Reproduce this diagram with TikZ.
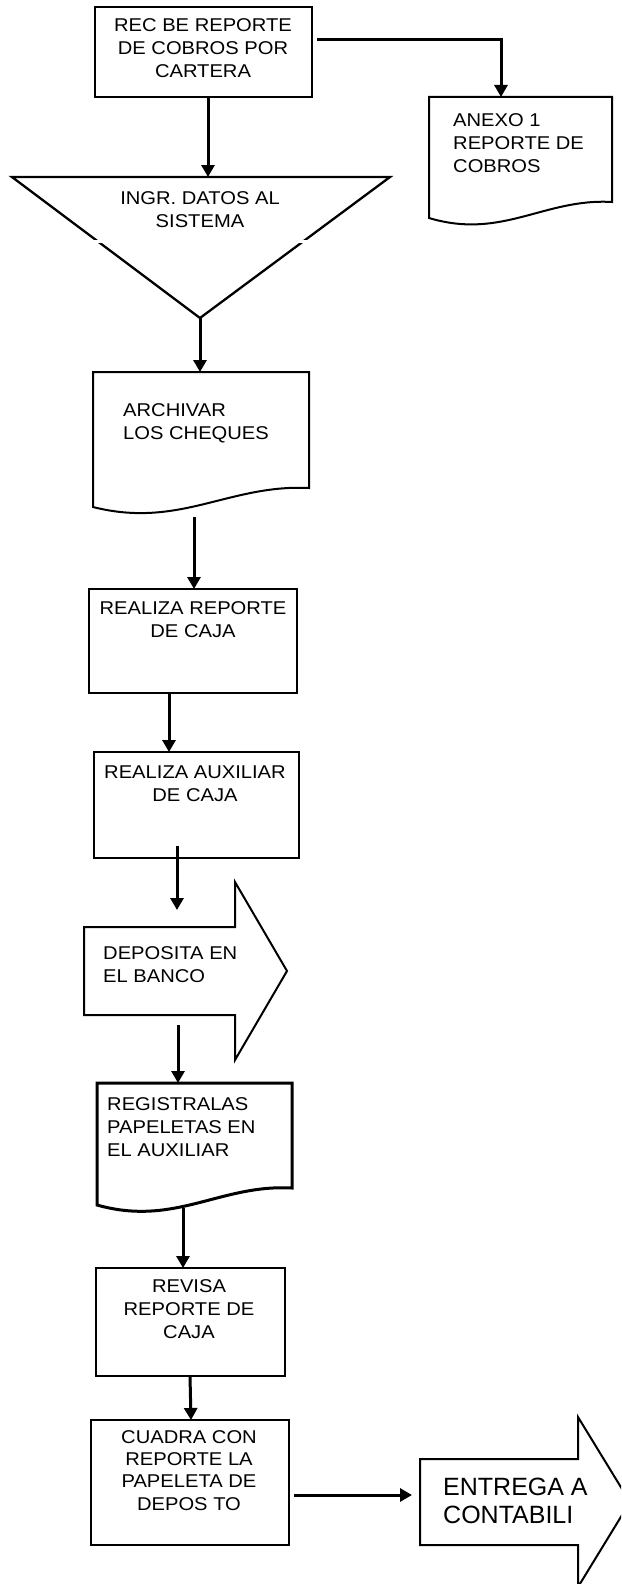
\documentclass[tikz,border=0pt]{standalone}
\usepackage{fontspec}
\setmainfont{Liberation Sans}
\newfontfamily\widesans{Liberation Sans}[FakeStretch=1.09]
\usetikzlibrary{arrows.meta,calc}

\tikzset{
  frame/.style={line width=2pt, line join=miter},
  heavyframe/.style={line width=3pt, line join=miter},
  flow/.style={line width=3pt, -{Triangle[width=13pt,length=12pt]}},
  shapebox/.style={draw=none, inner sep=0pt, outer sep=0pt, anchor=north west},
  procbox/.style={shapebox, draw, line width=2pt},
  lbl/.style={inner sep=0pt, font=\widesans\fontsize{18.5}{23}\selectfont, align=center, anchor=north},
  lbll/.style={lbl, align=left, anchor=north west},
  biglbl/.style={inner sep=0pt, font=\fontsize{25}{28}\selectfont, align=left, anchor=north west},
}

% document symbol: node box = straight part, wavy lower edge, right end raised by #3
\newcommand\docframe[3][frame]{%
  \draw[#1] (#2.south west) -- (#2.north west) -- (#2.north east) -- ($(#2.south east)+(0,-#3)$)
    .. controls ($(#2.south east)!0.37!(#2.south west)+(0,-#3-4)$)
       and ($(#2.south east)!0.6!(#2.south west)+(0,22)$) .. (#2.south west) -- cycle;}

% block arrow: node box = shaft, head sticks out #2 above/below and #3 to the right
\newcommand\blockarrow[3]{%
  \draw[frame] (#1.north west) -- (#1.north east) -- ++(0,-#2) -- ($(#1.east)+(#3,0)$)
    -- ($(#1.south east)+(0,#2)$) -- (#1.south east) -- (#1.south west) -- cycle;}

\begin{document}
\begin{tikzpicture}[x=1pt,y=-1pt]
\useasboundingbox (0,0) rectangle (621,1584);
\fill[white] (0,0) rectangle (621,1584);
\clip (0,0) rectangle (621,1584);

% ---- shapes ----
\node[procbox, minimum width=217pt, minimum height=90pt] (box1) at (95,7) {};
\node[shapebox, minimum width=183pt, minimum height=121pt] (anexo) at (429,97) {};
\docframe{anexo}{16}

\coordinate (triL) at (12,177);
\coordinate (triR) at (390,177);
\coordinate (triB) at (200,318);
\coordinate (tritop) at (208,177);
\draw[frame, line width=2.3pt] (triL) -- (triR) -- (triB) -- cycle;
\draw[white, line width=3pt] ($(triL)!0.46!(triB)+(-8,0)$) -- ++(16,0);
\draw[white, line width=3pt] ($(triR)!0.46!(triB)+(-8,0)$) -- ++(16,0);

\node[shapebox, minimum width=216pt, minimum height=135pt] (d2) at (93,372) {};
\docframe{d2}{19}

\node[procbox, minimum width=208pt, minimum height=104pt] (box3) at (89,589) {};
\node[procbox, minimum width=205pt, minimum height=106pt] (box4) at (94,752) {};

\node[shapebox, minimum width=151pt, minimum height=88pt] (dep) at (84,927) {};
\blockarrow{dep}{45}{52}

\node[shapebox, minimum width=195pt, minimum height=122pt] (d3) at (97,1083) {};
\docframe[heavyframe]{d3}{17}

\node[procbox, minimum width=189pt, minimum height=108pt] (revisa) at (96,1268) {};
\node[procbox, minimum width=198pt, minimum height=125pt] (cuadra) at (91,1420) {};

\node[shapebox, minimum width=158pt, minimum height=86pt] (ent) at (420,1459) {};
\blockarrow{ent}{42}{52}

% ---- texts ----
\node[lbl] (t1) at (203,18.5) {REC BE REPORTE\\DE COBROS POR\\CARTERA};
\node[lbll] (t2) at (453,113.5) {ANEXO 1\\REPORTE DE\\COBROS};
\node[lbl] (t3) at (200,191.5) {INGR. DATOS AL\\SISTEMA};
\node[lbll] (t4) at (123,403.5) {ARCHIVAR\\LOS CHEQUES};
\node[lbl] (t5) at (193,601.5) {REALIZA REPORTE\\DE CAJA};
\node[lbl] (t6) at (195,765.5) {REALIZA AUXILIAR\\DE CAJA};
\node[lbll] (t7) at (103,946.5) {DEPOSITA EN\\EL BANCO};
\node[lbll] (t8) at (107,1097.5) {REGISTRALAS\\PAPELETAS EN\\EL AUXILIAR};
\node[lbl] (t9) at (189,1279.5) {REVISA\\REPORTE DE\\CAJA};
\node[lbl, font=\widesans\fontsize{18.5}{22.3}\selectfont] (t10) at (189,1430) {CUADRA CON\\REPORTE LA\\PAPELETA DE\\DEPOS TO};
\node[biglbl] (t11) at (443,1478) {ENTREGA A\\CONTABILI};

% ---- connectors ----
\draw[flow] (box1.south -| tritop) -- (tritop);
\draw[flow] ($(box1.north east)+(5,33)$) -| ($(anexo.north west)+(72,0)$);
\draw[flow] (triB) -- (triB |- d2.north);
\draw[flow] ($(d2.south west)+(101,10)$) -- ($(box3.north west)+(105,0)$);
\draw[flow] ($(box3.south west)+(80,0)$) -- ($(box4.north west)+(75,0)$);
\draw[flow] ($(box4.south west)+(83,-12)$) -- ($(dep.north west)+(93,-17)$);
\draw[flow] ($(dep.south west)+(94,10)$) -- ($(d3.north west)+(81,0)$);
\draw[flow] ($(d3.south west)+(86,3)$) -- ($(revisa.north west)+(87,0)$);
\draw[flow] ($(revisa.south west)+(94,0)$) -- ($(cuadra.north west)+(100,0)$);
\draw[flow] ($(cuadra.east)+(5,12.5)$) -- ($(ent.west)+(-8,-7)$);
\end{tikzpicture}
\end{document}
